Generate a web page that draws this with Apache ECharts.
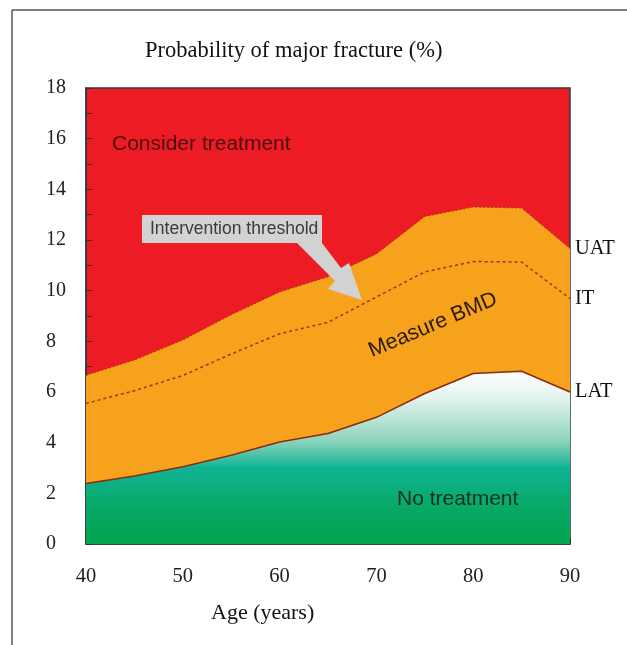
<!DOCTYPE html>
<html>
<head>
<meta charset="utf-8">
<script src="https://cdn.jsdelivr.net/npm/echarts@6/dist/echarts.min.js"></script>
<style>
html,body{margin:0;padding:0;background:#fff;}
#chart{width:627px;height:645px;}
</style>
</head>
<body>
<div id="chart"></div>
<script>
// Data
var ages = [40, 45, 50, 55, 60, 65, 70, 75, 80, 85, 90];
var uat  = [6.66, 7.26, 8.05, 9.05, 9.95, 10.55, 11.45, 12.93, 13.3, 13.26, 11.66];
var it   = [5.55, 6.05, 6.65, 7.5, 8.3, 8.75, 9.75, 10.74, 11.15, 11.13, 9.69];
var lat  = [2.39, 2.68, 3.05, 3.5, 4.03, 4.36, 5.0, 5.94, 6.73, 6.82, 6.0];
var xTicks = [40, 50, 60, 70, 80, 90];
var yTicks = [0, 2, 4, 6, 8, 10, 12, 14, 16, 18];
var yTitle = 'Probability of major fracture (%)';
var xTitle = 'Age (years)';
var regionLabels = ['Consider treatment', 'Measure BMD', 'No treatment'];
var calloutText = 'Intervention threshold';
var lineNames = ['UAT', 'IT', 'LAT'];

function pairs(ys){ return ages.map(function(a,i){ return [a, ys[i]]; }); }

var SERIF = '"Liberation Serif","Times New Roman",serif';
var SANS = '"Liberation Sans",Arial,sans-serif';

var chart = echarts.init(document.getElementById('chart'), null, {renderer:'canvas'});
var endLbl = function(txt){
  return {show:true, formatter: txt, fontFamily: SERIF, fontSize: 20.5, color:'#111', distance: 5};
};
var option = {
  animation: false,
  backgroundColor: '#fff',
  title: {
    text: yTitle, left: 140, top: 35,
    textStyle: {fontFamily: SERIF, fontSize: 22.5, fontWeight: 'normal', color: '#111'}
  },
  grid: {
    left: 86, right: 57, top: 88, bottom: 101,
    show: true, backgroundColor: '#ED1C24', borderColor: '#2f3a3a', borderWidth: 1.5
  },
  xAxis: {
    type: 'value', min: xTicks[0], max: xTicks[xTicks.length-1], interval: 5,
    axisLine: {show: true, lineStyle: {color: '#2f3a3a', width: 1.5}},
    axisTick: {show: true, inside: true, length: 6, lineStyle: {color: '#333'}},
    splitLine: {show: false},
    axisLabel: {fontFamily: SERIF, fontSize: 20.5, color: '#222', margin: 22,
      formatter: function(v){ return xTicks.indexOf(v) >= 0 ? String(v) : ''; }}
  },
  yAxis: {
    type: 'value', min: yTicks[0], max: yTicks[yTicks.length-1], interval: 1,
    axisLine: {show: true, lineStyle: {color: '#2f3a3a', width: 1.5}},
    axisTick: {show: true, inside: true, length: 6, lineStyle: {color: '#333'}},
    splitLine: {show: false},
    axisLabel: {fontFamily: SERIF, fontSize: 20, color: '#222', align: 'left', margin: 40,
      formatter: function(v){ return yTicks.indexOf(v) >= 0 ? String(v) : ''; }}
  },
  series: [
    {
      name: lineNames[0], type: 'line', data: pairs(uat), symbol: 'none',
      lineStyle: {color: '#8a2a10', width: 1, type: [2,2], opacity: 0.7},
      areaStyle: {color: '#F7A21D', opacity: 1, origin: 'start'},
      endLabel: endLbl(lineNames[0]), z: 2
    },
    {
      name: lineNames[2], type: 'line', data: pairs(lat), symbol: 'none',
      lineStyle: {color: '#8B2A12', width: 1.5},
      areaStyle: {opacity: 1, origin: 'start', color: new echarts.graphic.LinearGradient(0,0,0,1,[
        {offset: 0, color: '#ffffff'},
        {offset: 0.15, color: '#e4f4ee'},
        {offset: 0.4, color: '#8fd4bd'},
        {offset: 0.56, color: '#10b394'},
        {offset: 0.8, color: '#07a866'},
        {offset: 1, color: '#00a44e'}
      ])},
      endLabel: endLbl(lineNames[2]), z: 3
    },
    {
      name: lineNames[1], type: 'line', data: pairs(it), symbol: 'none',
      lineStyle: {color: '#A0331F', width: 1.5, type: [3,3]},
      endLabel: endLbl(lineNames[1]), z: 4
    }
  ],
  graphic: [
    {type: 'line', shape: {x1: 12, y1: 10, x2: 627, y2: 10}, style: {stroke: '#555', lineWidth: 1.5}, z: 10},
    {type: 'line', shape: {x1: 12, y1: 10, x2: 12, y2: 645}, style: {stroke: '#555', lineWidth: 1.5}, z: 10},
    {type: 'text', left: 211, top: 602, style: {text: xTitle, font: '22px ' + SERIF, fill: '#111'}},
    {type: 'text', x: 112, y: 144, style: {text: regionLabels[0], font: '21px ' + SANS, fill: '#4a0c10', textVerticalAlign: 'middle'}, z: 20},
    {type: 'text', x: 433, y: 325, rotation: 23 * Math.PI / 180, style: {text: regionLabels[1], font: '21.5px ' + SANS, fill: '#2a1a05', textAlign: 'center', textVerticalAlign: 'middle'}, z: 20},
    {type: 'text', x: 397, y: 499, style: {text: regionLabels[2], font: '21px ' + SANS, fill: '#10301f', textVerticalAlign: 'middle'}, z: 20},
    {type: 'polygon', shape: {points: [[297,243],[322,243],[341,268],[349,263],[362,300],[328,289],[335,281]]}, style: {fill: '#d2d2d2'}, z: 20},
    {type: 'rect', shape: {x: 142, y: 215, width: 180, height: 28}, style: {fill: '#d3d3d3'}, z: 21},
    {type: 'text', x: 150, y: 229, style: {text: calloutText, font: '17.5px ' + SANS, fill: '#3a3a3a', textVerticalAlign: 'middle'}, z: 22}
  ]
};
chart.setOption(option);
</script>
</body>
</html>
